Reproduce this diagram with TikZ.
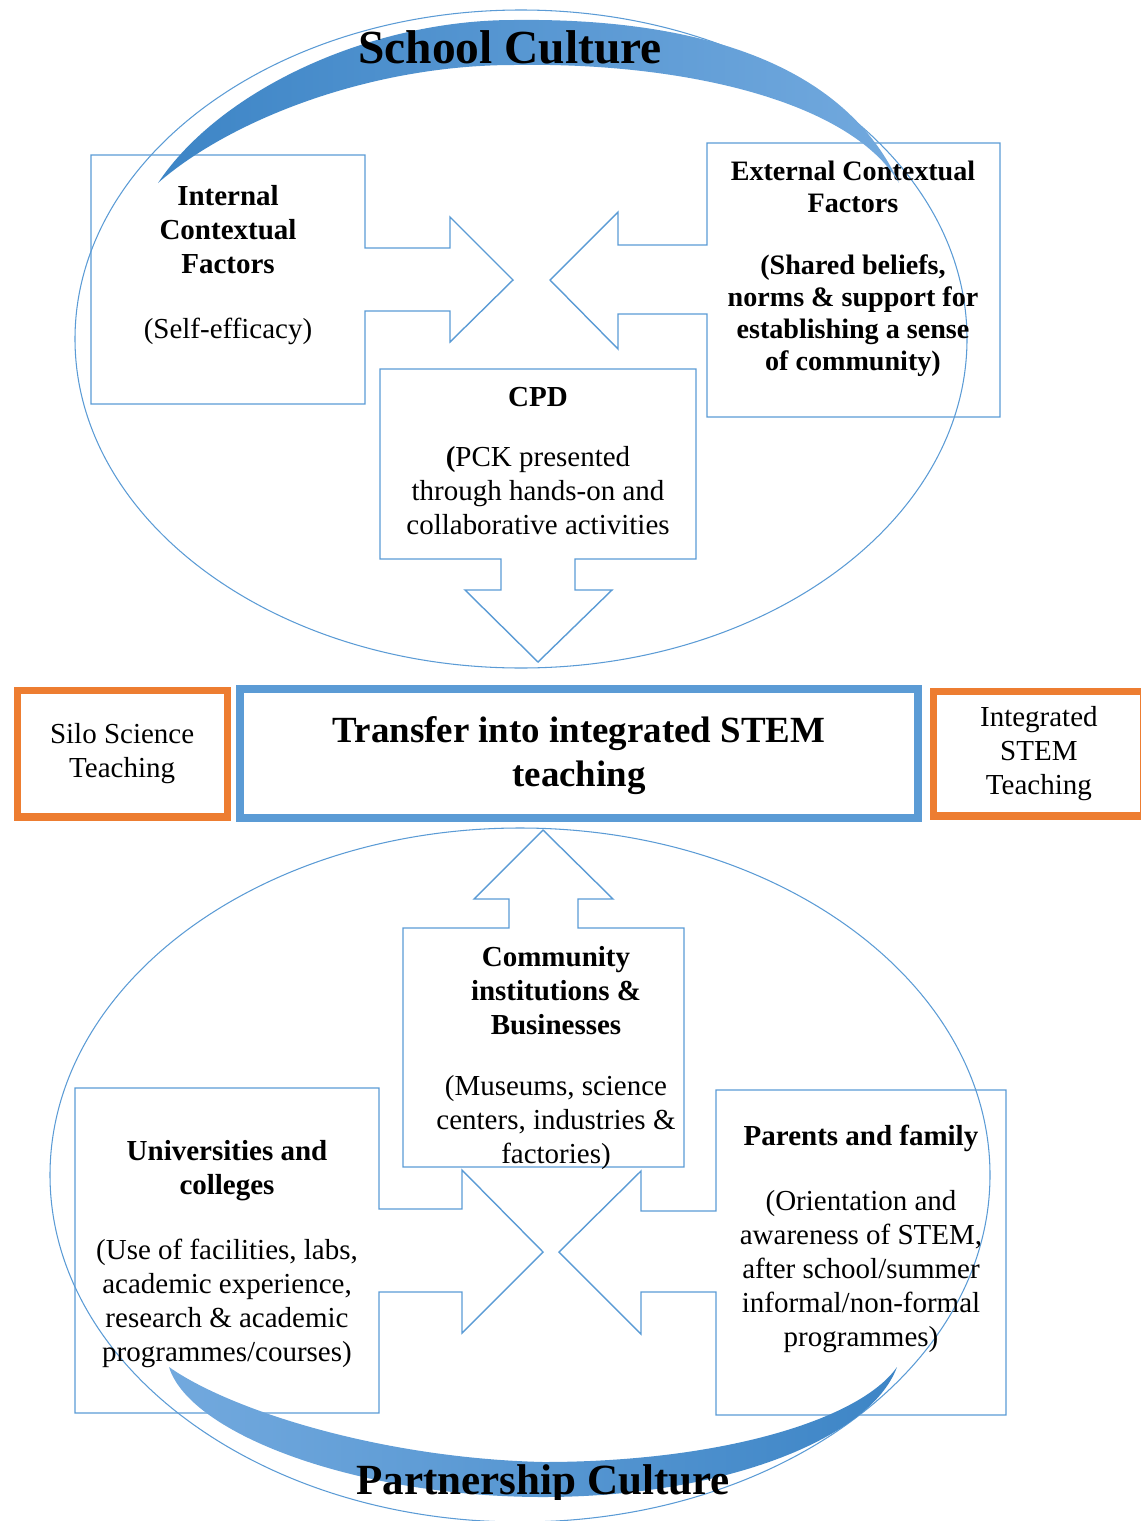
\documentclass[tikz,border=0pt]{standalone}
\usepackage{fontspec}
\setmainfont{Liberation Serif}
\usetikzlibrary{positioning}
\definecolor{sblue}{HTML}{5B9BD5}
\definecolor{sorange}{HTML}{ED7D31}
\definecolor{bandark}{HTML}{3D85C6}
\definecolor{banlight}{HTML}{72A9DE}

\begin{document}
\begin{tikzpicture}[x=0.02cm, y=-0.02cm,
		ring/.style={draw=sblue, line width=0.6pt},
		callout/.style={draw=sblue, line width=0.8pt, line join=miter},
		txt/.style={align=center, inner sep=0pt, font=\fontsize{16.5}{19.4}\selectfont},
		smalltxt/.style={align=center, inner sep=0pt, font=\fontsize{16}{18.2}\selectfont\bfseries},
		banner/.style={inner sep=0pt, font=\fontsize{27}{30}\selectfont\bfseries},
		sidebox/.style={rectangle, draw=sorange, line width=4pt, minimum width=4.2cm, minimum height=2.54cm, align=center, font=\fontsize{16.5}{19.4}\selectfont},
		mainbox/.style={rectangle, draw=sblue, line width=4.5pt, minimum width=13.58cm, minimum height=2.58cm, align=center, font=\fontsize{21}{24.5}\selectfont\bfseries},
		node distance = 0.1cm]
		\useasboundingbox (0,0) rectangle (1140,1521);
		\draw[ring] (521,339) ellipse [x radius=446, y radius=329];
		\draw[ring] (520,1175) ellipse [x radius=470, y radius=347];
		\draw[callout] (91,155) -- (365,155) -- (365,248) -- (450,248) -- (450,217) -- (513,280) -- (450,342) -- (450,311) -- (365,311) -- (365,404) -- (91,404) -- cycle;
		\draw[callout] (707,143) -- (1000,143) -- (1000,417) -- (707,417) -- (707,314) -- (618,314) -- (618,349) -- (550,280) -- (618,212) -- (618,245) -- (707,245) -- cycle;
		\draw[callout] (380,369) -- (696,369) -- (696,559) -- (575,559) -- (575,590) -- (612,590) -- (538,662) -- (465,590) -- (501,590) -- (501,559) -- (380,559) -- cycle;
		\draw[callout] (403,928) -- (509,928) -- (509,899) -- (474,899) -- (543,830) -- (613,899) -- (578,899) -- (578,928) -- (684,928) -- (684,1167) -- (403,1167) -- cycle;
		\draw[callout] (75,1088) -- (379,1088) -- (379,1209) -- (462,1209) -- (462,1170) -- (543,1252) -- (462,1333) -- (462,1292) -- (379,1292) -- (379,1413) -- (75,1413) -- cycle;
		\draw[callout] (716,1090) -- (1006,1090) -- (1006,1415) -- (716,1415) -- (716,1292) -- (641,1292) -- (641,1334) -- (559,1252) -- (641,1171) -- (641,1211) -- (716,1211) -- cycle;
		\node[txt] (internal) at (228,265) {\textbf{Internal}\\\textbf{Contextual}\\\textbf{Factors}\\[0.9\baselineskip](Self-efficacy)};
		\node[smalltxt] (external) at (853,269) {External Contextual\\Factors\\[0.95\baselineskip](Shared beliefs,\\norms \& support for\\establishing a sense\\of community)};
		\node[txt] (cpd) at (538,461) {\textbf{CPD}\\[0.75\baselineskip]\textbf{(}PCK presented\\through hands-on and\\collaborative activities};
		\node[mainbox] (transfer) at (579,753.5) {\\[-0.3\baselineskip]Transfer into integrated STEM\\teaching};
		\node[sidebox] (silo)[left = of transfer] {Silo Science\\Teaching};
		\node[sidebox, minimum height=2.5cm] (integrated)[right = 0.16cm of transfer] {Integrated\\STEM\\Teaching};
		\node[txt] (community) at (556,1058) {\textbf{Community}\\\textbf{institutions \&}\\\textbf{Businesses}\\[0.8\baselineskip](Museums, science\\centers, industries \&\\factories)};
		\node[txt] (universities) at (227,1254) {\textbf{Universities and}\\\textbf{colleges}\\[0.9\baselineskip](Use of facilities, labs,\\academic experience,\\research \& academic\\programmes/courses)};
		\node[txt] (parents) at (861,1239) {\textbf{Parents and family}\\[0.9\baselineskip](Orientation and\\awareness of STEM,\\after school/summer\\informal/non-formal\\programmes)};
		\shade[left color=bandark, right color=banlight] (158,183) .. controls (220,90) and (370,20) .. (514,20) .. controls (680,18) and (840,55) .. (899,183) .. controls (850,100) and (680,62) .. (514,65) .. controls (370,65) and (230,120) .. (158,183) -- cycle;
		\shade[left color=banlight, right color=bandark] (169,1367) .. controls (190,1435) and (360,1497) .. (543,1497) .. controls (720,1497) and (870,1440) .. (897,1367) .. controls (860,1420) and (720,1462) .. (543,1462) .. controls (380,1458) and (230,1410) .. (169,1367) -- cycle;
		\node[banner] (school) at (510,47) {School Culture};
		\begin{scope}
			\clip (0,0) rectangle (1140,1499);
			\node[banner, font=\fontsize{24.5}{28}\selectfont\bfseries] (partnership) at (543,1484) {Partnership Culture};
		\end{scope}
	\end{tikzpicture}
\end{document}
